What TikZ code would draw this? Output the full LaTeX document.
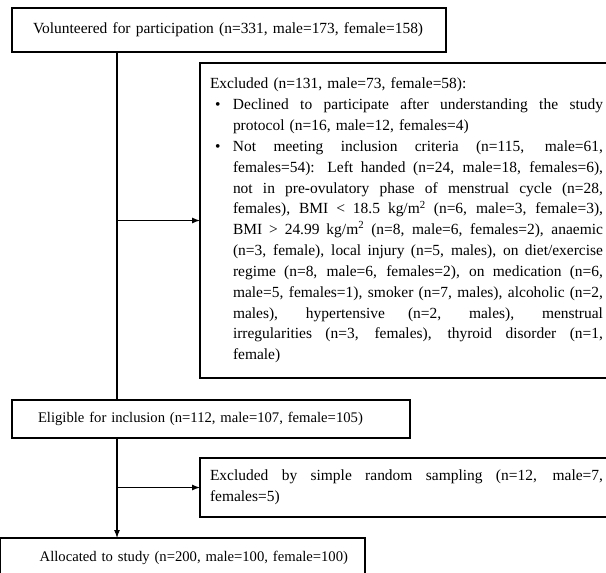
\documentclass[tikz,border=0pt]{standalone}
\usepackage{fontspec}
\setmainfont{Liberation Serif}
\usetikzlibrary{arrows.meta}
\newlength\jw \setlength\jw{277.5pt}
\newcommand\jl[1]{{\spaceskip=0pt\xspaceskip=0pt\makebox[\jw][s]{#1}}}
\newcommand\bulletlead{\hspace*{3.75pt}\makebox[13.5pt][l]{\textbullet}}
\newcommand\indentlead{\hspace*{17.25pt}}
\newcommand\sqm{kg/m\textsuperscript{2}}
\begin{document}
\begin{tikzpicture}[x=0.75pt, y=-0.75pt,
  font=\fontsize{11.6pt}{15.64pt}\selectfont,
  small/.style={font=\fontsize{11pt}{14pt}\selectfont},
  box/.style={draw, line width=0.8pt, inner ysep=0pt, outer sep=0pt, align=left},
  ln/.style={line width=0.8pt},
  arr/.style={line width=0.8pt, -{Latex[length=6pt,width=4.5pt]}}]
\useasboundingbox (0,0) rectangle (606,572);
\clip (0,0) rectangle (606,572);

\node[box, minimum width=325.5pt, minimum height=33pt, text width=294pt, inner xsep=15.75pt] (vol) at (229,30)
  {Volunteered for participation (n=331, male=173, female=158)};

\node[box, minimum width=315pt, minimum height=236.25pt, text width=300pt, inner xsep=7.5pt] (ex1) at (410,220.5)
  {Excluded (n=131, male=73, female=58):\\
   \bulletlead\jl{Declined to participate after understanding the study}\\
   \indentlead protocol (n=16, male=12, females=4)\\
   \bulletlead\jl{Not meeting inclusion criteria (n=115, male=61,}\\
   \indentlead\jl{females=54): Left handed (n=24, male=18, females=6),}\\
   \indentlead\jl{not in pre-ovulatory phase of menstrual cycle (n=28,}\\
   \indentlead\jl{females), BMI < 18.5 \sqm{} (n=6, male=3, female=3),}\\
   \indentlead\jl{BMI > 24.99 \sqm{} (n=8, male=6, females=2), anaemic}\\
   \indentlead\jl{(n=3, female), local injury (n=5, males), on diet/exercise}\\
   \indentlead\jl{regime (n=8, male=6, females=2), on medication (n=6,}\\
   \indentlead\jl{male=5, females=1), smoker (n=7, males), alcoholic (n=2,}\\
   \indentlead\jl{males), hypertensive (n=2, males), menstrual}\\
   \indentlead\jl{irregularities (n=3, females), thyroid disorder (n=1,}\\
   \indentlead female)};

\node[box, small, minimum width=298.5pt, minimum height=28.5pt, text width=259.5pt, inner xsep=19.5pt] (elig) at (211,419)
  {Eligible for inclusion (n=112, male=107, female=105)};

\node[box, minimum width=315pt, minimum height=44.25pt, text width=300pt, inner xsep=7.5pt] (ex2) at (410,487.5)
  {{\spaceskip=0pt\xspaceskip=0pt\makebox[294.75pt][s]{Excluded by simple random sampling (n=12, male=7,}}\\
   females=5)};

\node[box, small, minimum width=273.75pt, minimum height=30pt, text width=248.25pt, inner xsep=12.75pt, align=right] (alloc) at (182.5,558)
  {Allocated to study (n=200, male=100, female=100)};

\coordinate (trunk) at (117,0);
\draw[ln] (vol.south -| trunk) -- (elig.north -| trunk);
\draw[arr] (ex1.west -| trunk) -- (ex1.west);
\draw[arr] (elig.south -| trunk) -- (alloc.north -| trunk);
\draw[arr] (ex2.west -| trunk) -- (ex2.west);
\end{tikzpicture}
\end{document}
